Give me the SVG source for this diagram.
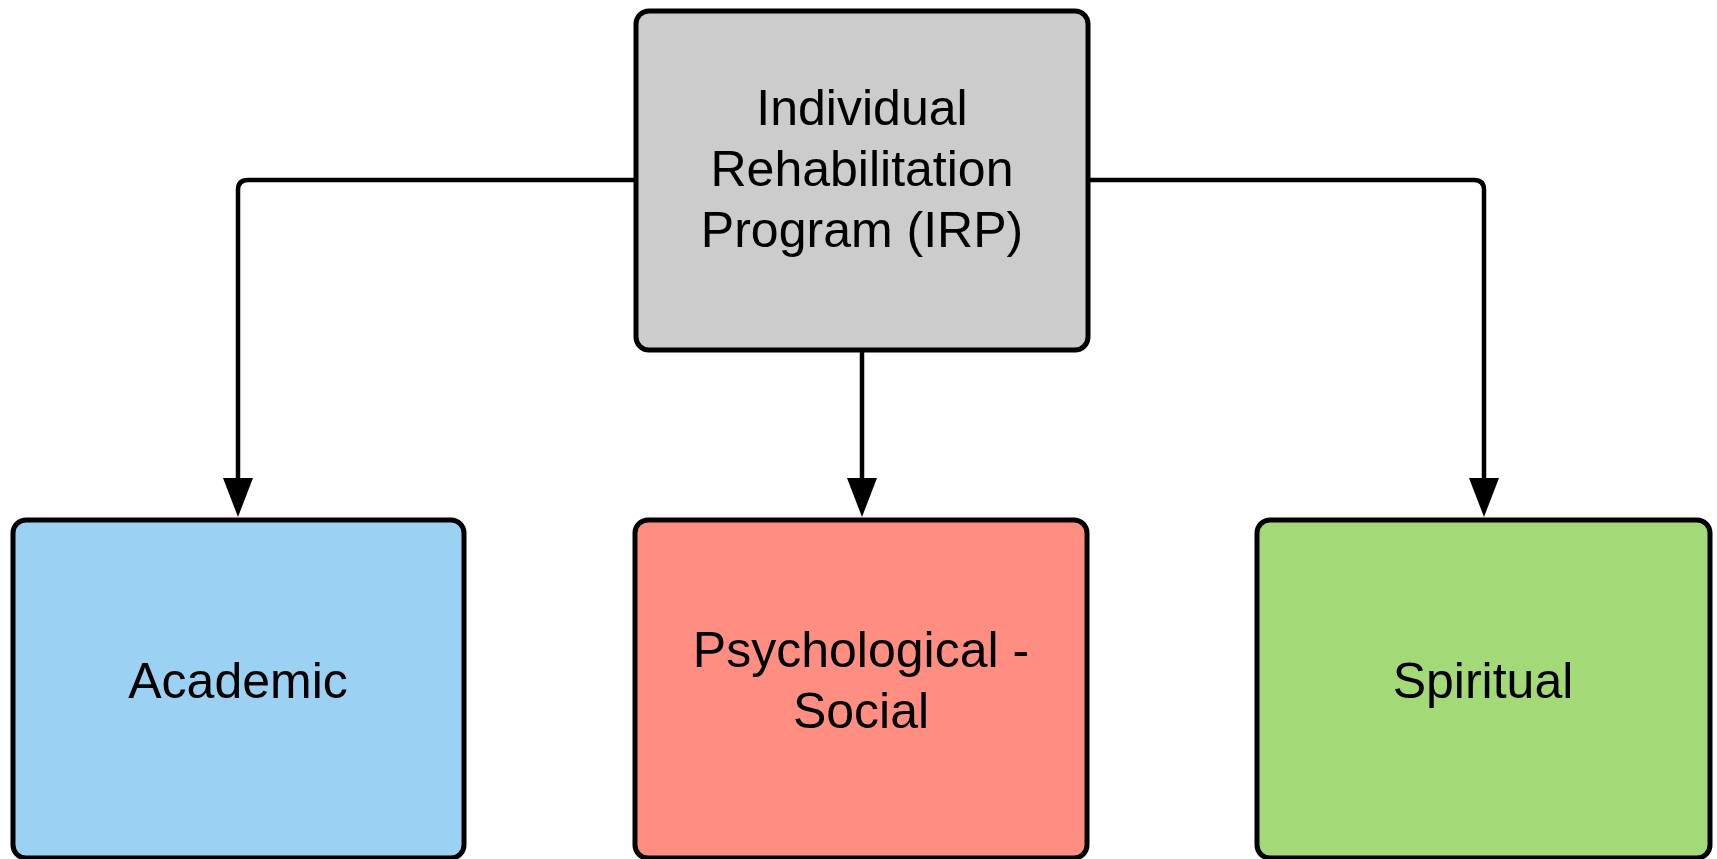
<svg xmlns="http://www.w3.org/2000/svg" width="1717" height="859" viewBox="0 0 1717 859">
<style>
.box{stroke:#000;stroke-width:5}
.lbl{font-family:"Liberation Sans",Arial,sans-serif;font-size:50px;fill:#000;text-anchor:middle}
.conn{fill:none;stroke:#000;stroke-width:4.5}
</style>
<defs>
<marker id="arr" markerUnits="userSpaceOnUse" markerWidth="40" markerHeight="32" viewBox="0 0 40 32" refX="1" refY="16" orient="auto">
<path d="M0,1 L39,16 L0,31 z" fill="#000"/>
</marker>
</defs>
<rect width="1717" height="859" fill="#fff"/>
<g id="connectors">
<path class="conn" d="M636,180 H248 Q238,180 238,190 V479" marker-end="url(#arr)"/>
<path class="conn" d="M862,350 V479" marker-end="url(#arr)"/>
<path class="conn" d="M1088,180 H1474 Q1484,180 1484,190 V479" marker-end="url(#arr)"/>
</g>
<g id="irp">
<rect class="box" x="636" y="11" width="452" height="339" rx="13" fill="#cccccc"/>
<text class="lbl" x="862" y="125">Individual</text>
<text class="lbl" x="862" y="186">Rehabilitation</text>
<text class="lbl" x="862" y="247">Program (IRP)</text>
</g>
<g id="academic">
<rect class="box" x="13" y="520" width="451" height="338" rx="13" fill="#9bd1f2"/>
<text class="lbl" x="238" y="698">Academic</text>
</g>
<g id="psych">
<rect class="box" x="635" y="520" width="452" height="338" rx="13" fill="#fe8e81"/>
<text class="lbl" x="861" y="667">Psychological -</text>
<text class="lbl" x="861" y="728">Social</text>
</g>
<g id="spiritual">
<rect class="box" x="1257" y="520" width="453" height="338" rx="13" fill="#a3d977"/>
<text class="lbl" x="1483" y="698">Spiritual</text>
</g>
</svg>
